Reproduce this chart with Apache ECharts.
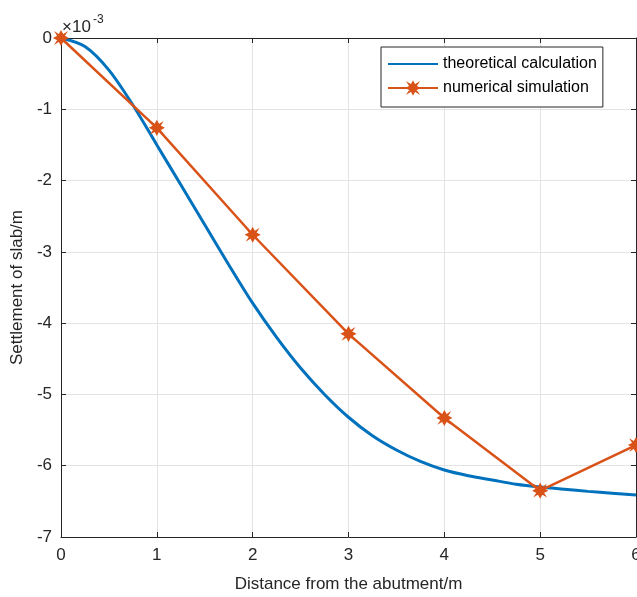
<!DOCTYPE html>
<html>
<head>
<meta charset="utf-8">
<script src="https://cdn.jsdelivr.net/npm/echarts@6/dist/echarts.min.js"></script>
<style>
  html, body { margin: 0; padding: 0; background: #fff; }
  #chart { width: 637px; height: 597px; }
</style>
</head>
<body>
<div id="chart"></div>
<script>
// theoretical curve (x in m, settlement in 1e-3 m)
var theoX = [0, 0.25, 0.5, 0.75, 1, 1.25, 1.5, 1.75, 2, 2.25, 2.5, 2.75, 3, 3.25, 3.5, 3.75, 4, 4.25, 4.5, 4.75, 5, 5.25, 5.5, 5.75, 6];
var theoY = [0, -0.12, -0.45, -0.94, -1.5, -2.06, -2.62, -3.18, -3.72, -4.2, -4.63, -5.0, -5.32, -5.58, -5.78, -5.94, -6.06, -6.14, -6.2, -6.26, -6.3, -6.33, -6.36, -6.385, -6.41];
// numerical simulation points
var numX = [0, 1, 2, 3, 4, 5, 6];
var numY = [0, -1.26, -2.76, -4.15, -5.33, -6.35, -5.71];

var chart = echarts.init(document.getElementById('chart'));

var axisColor = '#262626';
var font = 'Arial, "Liberation Sans", sans-serif';
var star = 'path://M0,-10 L3,-4.5 L7,-7 L4.5,-3 L10,0 L4.5,3 L7,7 L3,4.5 L0,10 L-3,4.5 L-7,7 L-4.5,3 L-10,0 L-4.5,-3 L-7,-7 L-3,-4.5 Z';

function zip(a, b) { return a.map(function (v, i) { return [v, b[i]]; }); }

var option = {
  animation: false,
  backgroundColor: '#fff',
  grid: { left: 61, right: 1, top: 38, bottom: 60, containLabel: false, outerBoundsMode: 'none' },
  legend: {
    left: 381, top: 47, orient: 'vertical',
    backgroundColor: '#fff', borderColor: axisColor, borderWidth: 1,
    padding: [9, 6, 11, 6], itemGap: 8, itemWidth: 50, itemHeight: 14,
    textStyle: { fontFamily: font, fontSize: 16, color: '#000' },
    data: [
      { name: 'theoretical calculation', itemStyle: { opacity: 0 } },
      { name: 'numerical simulation' }
    ]
  },
  xAxis: [{
    type: 'value', min: 0, max: 6, interval: 1,
    name: 'Distance from the abutment/m', nameLocation: 'middle', nameGap: 39,
    nameTextStyle: { fontFamily: font, fontSize: 17, color: '#262626' },
    axisLine: { show: true, onZero: false, lineStyle: { color: axisColor, width: 1 } },
    axisTick: { show: true, inside: true, length: 5, lineStyle: { color: axisColor } },
    axisLabel: { fontFamily: font, fontSize: 17, color: '#262626', margin: 10 },
    splitLine: { show: true, lineStyle: { color: '#e3e3e3', width: 1 } }
  }, {
    type: 'value', min: 0, max: 6, interval: 1, position: 'top',
    axisLine: { show: true, onZero: false, lineStyle: { color: axisColor, width: 1 } },
    axisTick: { show: true, inside: true, length: 5, lineStyle: { color: axisColor } },
    axisLabel: { show: false }, splitLine: { show: false }
  }],
  yAxis: [{
    type: 'value', min: -7, max: 0, interval: 1,
    name: 'Settlement of slab/m', nameLocation: 'middle', nameGap: 30,
    nameTextStyle: { fontFamily: font, fontSize: 17, color: '#262626' },
    axisLine: { show: true, onZero: false, lineStyle: { color: axisColor, width: 1 } },
    axisTick: { show: true, inside: true, length: 5, lineStyle: { color: axisColor } },
    axisLabel: { fontFamily: font, fontSize: 17, color: '#262626', margin: 9 },
    splitLine: { show: true, lineStyle: { color: '#e3e3e3', width: 1 } }
  }, {
    type: 'value', min: -7, max: 0, interval: 1, position: 'right',
    axisLine: { show: true, onZero: false, lineStyle: { color: axisColor, width: 1 } },
    axisTick: { show: true, inside: true, length: 5, lineStyle: { color: axisColor } },
    axisLabel: { show: false }, splitLine: { show: false }
  }],
  graphic: [{
    type: 'text', x: 62, y: 19,
    style: { text: '×10', fontFamily: font, fontSize: 17, fill: '#262626', verticalAlign: 'top' }
  }, {
    type: 'text', x: 93, y: 14,
    style: { text: '-3', fontFamily: font, fontSize: 12, fill: '#262626', verticalAlign: 'top' }
  }],
  series: [{
    name: 'theoretical calculation', type: 'line', smooth: 0.3,
    data: zip(theoX, theoY), showSymbol: false, symbol: 'none',
    lineStyle: { color: '#0072BD', width: 3 }, itemStyle: { color: '#0072BD' }, z: 3
  }, {
    name: 'numerical simulation', type: 'line',
    data: zip(numX, numY), symbol: star, symbolSize: 13,
    lineStyle: { color: '#D95319', width: 2.5 }, itemStyle: { color: '#D95319', borderColor: '#D95319', borderWidth: 1.5 }, z: 4
  }]
};

chart.setOption(option);
</script>
</body>
</html>
